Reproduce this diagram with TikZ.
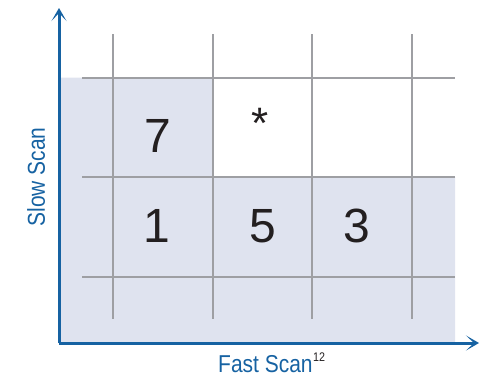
\documentclass[tikz,border=0pt]{standalone}
\usepackage{fontspec}
\setmainfont{Liberation Sans}
\usetikzlibrary{arrows.meta}
\definecolor{axisblue}{RGB}{22,98,162}
\definecolor{cellshade}{RGB}{223,227,239}
\definecolor{gridgray}{RGB}{158,159,163}
\definecolor{digitink}{RGB}{35,31,32}
\tikzset{
  gridline/.style={draw=gridgray, line width=2pt},
  axisline/.style={draw=axisblue, line width=3pt,
    -{Stealth[length=13pt,width=15pt,inset=8pt]}},
  digit/.style={inner sep=0pt, anchor=base, text=digitink,
    font=\fontsize{48}{50}\selectfont},
  axislabel/.style={inner sep=0pt, text=axisblue,
    font=\fontsize{24.4}{26}\selectfont}
}
\begin{document}
\begin{tikzpicture}[x=1pt, y={(0pt,-1pt)}]
  \useasboundingbox (0,0) rectangle (480,376);

  % shaded cells
  \fill[cellshade] (59,77.5) -- (213,77.5) -- (213,177) -- (455,177)
    -- (455,343) -- (59,343) -- cycle;

  % grid
  \foreach \yy in {77.5,177,276.5}
    \draw[gridline] (82,\yy) -- (455,\yy);
  \foreach \xx in {113,213,312,412}
    \draw[gridline] (\xx,34) -- (\xx,319);

  % axes
  \coordinate (origin) at (59,343);
  \coordinate (ytip) at (59,8);
  \coordinate (xtip) at (479,343);
  \draw[axisline] (origin) -- (ytip);
  \draw[axisline] (origin) -- (xtip);

  % cell entries
  \node[digit] (seven) at (157.5,152) {7};
  \node[digit, font=\fontsize{44}{46}\selectfont] (star) at (260.5,138) {*};
  \node[digit] (one) at (156.7,242) {1};
  \node[digit] (five) at (263,242) {5};
  \node[digit] (three) at (356.7,242) {3};

  % axis labels
  \node[axislabel, anchor=base west] (fast) at (218,372)
    {\scalebox{0.86}[1]{Fast Scan\kern0.5pt\raisebox{10.6pt}{\color{digitink}\fontsize{12.5}{14}\selectfont 12}}};
  \node[axislabel, anchor=base, rotate=90] (slow) at (45,177)
    {\scalebox{0.86}[1]{Slow Scan}};
\end{tikzpicture}
\end{document}
